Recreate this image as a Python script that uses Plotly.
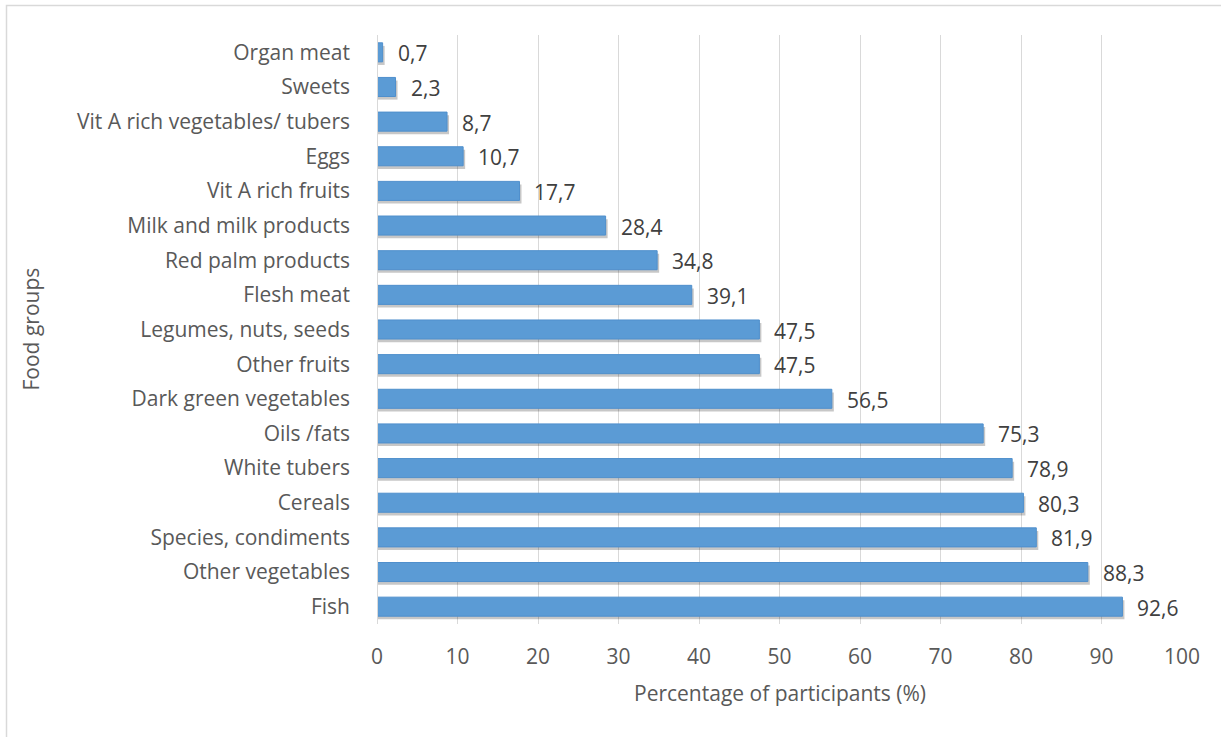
import plotly.graph_objects as go

categories = ["Organ meat", "Sweets", "Vit A rich vegetables/ tubers", "Eggs", "Vit A rich fruits",
              "Milk and milk products", "Red palm products", "Flesh meat", "Legumes, nuts, seeds",
              "Other fruits", "Dark green vegetables", "Oils /fats", "White tubers", "Cereals",
              "Species, condiments", "Other vegetables", "Fish"]
values = [0.7, 2.3, 8.7, 10.7, 17.7, 28.4, 34.8, 39.1, 47.5, 47.5, 56.5, 75.3, 78.9, 80.3, 81.9, 88.3, 92.6]
x_ticks = [0, 10, 20, 30, 40, 50, 60, 70, 80, 90, 100]

FONT = "Open Sans"
FS = 21
L, R, T, B = 377, 39, 35, 113
W, H = 1221, 737
pw = W - L - R
ph = H - T - B

fig = go.Figure()
# soft shadow
fig.add_trace(go.Bar(
    y=categories, x=[v + 0.25 for v in values], orientation="h",
    width=0.55, offset=-0.275 + 0.09,
    marker=dict(color="rgba(0,0,0,0.22)", line=dict(width=0)),
    hoverinfo="skip", showlegend=False))
fig.add_trace(go.Bar(
    y=categories, x=values, orientation="h",
    width=0.55, offset=-0.275,
    marker=dict(color="#5b9bd5", line=dict(color="#4f8fcc", width=1)),
    showlegend=False))

for c, v in zip(categories, values):
    fig.add_annotation(x=v, y=c, text=f"{v:.1f}".replace(".", ","), showarrow=False,
                       xanchor="left", xshift=13, yshift=-1,
                       font=dict(family=FONT, size=FS, color="#404040"))

fig.add_annotation(xref="paper", yref="paper", x=(30 - L) / pw, y=0.5, text="Food groups",
                   xanchor="center", yanchor="middle",
                   textangle=-90, showarrow=False, font=dict(family=FONT, size=FS, color="#595959"))
fig.add_annotation(xref="paper", yref="paper", x=0.5, y=-(693 - (H - B)) / ph, text="Percentage of participants (%)",
                   xanchor="center", yanchor="middle",
                   showarrow=False, font=dict(family=FONT, size=FS, color="#595959"))

# chart border
fig.add_shape(type="rect", xref="paper", yref="paper",
              x0=(6.5 - L) / pw, x1=(1230 - L) / pw,
              y0=-(750 - (H - B)) / ph, y1=((H - B) - 5.5) / ph,
              line=dict(color="#d9d9d9", width=1.5), fillcolor="rgba(0,0,0,0)", layer="below")

fig.update_layout(
    width=W, height=H,
    margin=dict(l=L, r=R, t=T, b=B),
    paper_bgcolor="white", plot_bgcolor="white",
    barmode="overlay",
    font=dict(family=FONT, size=FS, color="#595959"),
    xaxis=dict(range=[0, 100], tickvals=x_ticks, showgrid=True, gridcolor="#d9d9d9", gridwidth=1,
               zeroline=False, showline=False, ticks="", ticklabelstandoff=18,
               tickfont=dict(family=FONT, size=FS, color="#595959")),
    yaxis=dict(autorange="reversed", showgrid=False, zeroline=False, showline=False, ticks="",
               ticklabelstandoff=26, tickfont=dict(family=FONT, size=FS, color="#595959")),
)
fig.add_vline(x=0, line=dict(color="#d9d9d9", width=2))

fig.write_html("out.html")
